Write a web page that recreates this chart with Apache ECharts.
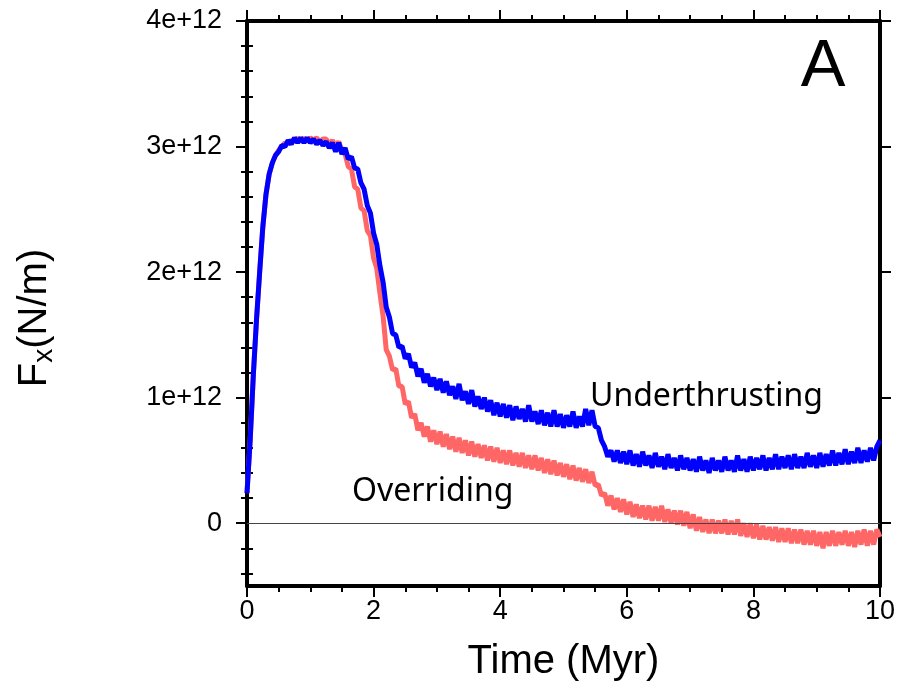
<!DOCTYPE html>
<html><head><meta charset="utf-8">
<script src="https://cdn.jsdelivr.net/npm/echarts@6/dist/echarts.min.js"></script>
<style>html,body{margin:0;padding:0;background:#fff}#c{width:902px;height:691px}</style>
</head><body><div id="c"></div>
<script>
// Fx in units of 1e12 N/m, sampled every 0.05 Myr from 0 to 10 Myr
const timeStep = 0.05;
const underthrusting = [
0.24,0.66,1.18,1.62,2.00,2.36,2.62,2.78,2.87,2.93,
2.96,3.01,3.00,3.05,3.02,3.07,3.03,3.07,3.03,3.07,
3.03,3.06,3.02,3.05,3.01,3.04,2.99,3.03,2.96,3.03,
2.94,2.99,2.90,2.92,2.83,2.82,2.71,2.66,2.53,2.47,
2.31,2.22,2.05,1.92,1.72,1.64,1.51,1.50,1.40,1.41,
1.31,1.35,1.24,1.28,1.17,1.23,1.12,1.19,1.09,1.16,
1.06,1.15,1.04,1.13,1.02,1.09,0.99,1.11,0.98,1.05,
0.95,1.06,0.93,1.01,0.91,1.00,0.89,0.98,0.86,0.96,
0.85,0.95,0.84,0.94,0.82,0.93,0.83,0.91,0.81,0.94,
0.81,0.89,0.79,0.90,0.78,0.88,0.77,0.90,0.77,0.87,
0.76,0.86,0.77,0.89,0.76,0.85,0.77,0.91,0.78,0.90,
0.77,0.76,0.66,0.61,0.53,0.58,0.49,0.58,0.48,0.57,
0.47,0.58,0.46,0.55,0.45,0.57,0.46,0.54,0.44,0.56,
0.45,0.53,0.43,0.55,0.44,0.52,0.42,0.54,0.43,0.52,
0.42,0.51,0.41,0.53,0.42,0.50,0.40,0.52,0.42,0.50,
0.41,0.53,0.42,0.50,0.41,0.54,0.42,0.51,0.41,0.53,
0.42,0.52,0.43,0.54,0.42,0.52,0.43,0.55,0.43,0.53,
0.44,0.54,0.43,0.55,0.44,0.53,0.44,0.56,0.45,0.54,
0.44,0.56,0.45,0.55,0.46,0.58,0.46,0.56,0.47,0.59,
0.47,0.57,0.48,0.60,0.48,0.58,0.49,0.60,0.50,0.61,
0.66];
const overriding = [
0.24,0.66,1.18,1.62,2.00,2.36,2.62,2.78,2.87,2.93,
2.97,3.00,3.03,3.02,3.05,3.04,3.07,3.04,3.07,3.04,
3.07,3.05,3.07,3.04,3.06,3.06,3.02,3.05,3.00,3.04,
2.96,2.94,2.84,2.82,2.68,2.66,2.51,2.49,2.33,2.29,
2.11,2.03,1.83,1.65,1.38,1.33,1.22,1.23,1.09,1.09,
0.95,0.97,0.84,0.87,0.74,0.80,0.69,0.77,0.65,0.74,
0.63,0.73,0.61,0.71,0.59,0.69,0.57,0.68,0.56,0.66,
0.54,0.65,0.53,0.63,0.52,0.62,0.50,0.61,0.49,0.60,
0.48,0.58,0.47,0.58,0.46,0.56,0.45,0.56,0.44,0.54,
0.43,0.54,0.42,0.52,0.40,0.51,0.39,0.50,0.38,0.48,
0.37,0.47,0.35,0.46,0.34,0.44,0.33,0.43,0.32,0.41,
0.30,0.31,0.22,0.24,0.14,0.22,0.11,0.20,0.09,0.19,
0.07,0.17,0.05,0.15,0.04,0.14,0.03,0.14,0.02,0.13,
0.02,0.14,0.01,0.11,0.00,0.10,-0.01,0.10,-0.02,0.09,
-0.04,0.07,-0.06,0.05,-0.07,0.03,-0.08,0.03,-0.08,0.02,
-0.08,0.03,-0.09,0.02,-0.09,0.03,-0.10,0.00,-0.11,0.00,
-0.12,-0.01,-0.13,-0.02,-0.13,-0.03,-0.14,-0.03,-0.15,-0.04,
-0.15,-0.04,-0.16,-0.05,-0.16,-0.05,-0.17,-0.06,-0.17,-0.06,
-0.18,-0.07,-0.20,-0.07,-0.18,-0.06,-0.18,-0.07,-0.17,-0.06,
-0.18,-0.07,-0.19,-0.06,-0.17,-0.05,-0.18,-0.06,-0.17,-0.05,
-0.11];
const xTicks = [0, 2, 4, 6, 8, 10];
const yTicks = [0, 1, 2, 3, 4];
const yMinorTicks = [-0.4,-0.2,0.2,0.4,0.6,0.8,1.2,1.4,1.6,1.8,2.2,2.4,2.6,2.8,3.2,3.4,3.6,3.8];
const seriesNames = ['Overriding', 'Underthrusting'];

const pairs = arr => arr.map((v, i) => [+(i * timeStep).toFixed(2), v]);

const FONT = 'Liberation Sans';
const black = '#000';
const axisLineStyle = {show: true, onZero: false, lineStyle: {color: black, width: 4}};
const tickRich = {t: {fontSize: 27, color: black, fontFamily: FONT, lineHeight: 30}};

const chart = echarts.init(document.getElementById('c'), null, {renderer: 'canvas'});
chart.setOption({
  backgroundColor: '#fff',
  animation: false,
  grid: {left: 247, right: 22, top: 21, bottom: 105, containLabel: false},
  xAxis: [
    {type: 'value', position: 'bottom', min: 0, max: 10, interval: 2,
     axisLine: axisLineStyle,
     axisTick: {show: true, inside: false, length: 11, lineStyle: {color: black, width: 2}},
     minorTick: {show: true, splitNumber: 4, length: 6, lineStyle: {color: black, width: 2}},
     splitLine: {show: false},
     axisLabel: {show: true, margin: 11, fontSize: 27, color: black, fontFamily: FONT, rich: tickRich,
                 formatter: v => xTicks.includes(v) ? '{t|' + v + '}' : ''},
     name: 'Time (Myr)', nameLocation: 'middle', nameGap: 56,
     nameTextStyle: {fontSize: 40, color: black, fontFamily: FONT}},
    {type: 'value', position: 'top', min: 0, max: 10, interval: 2,
     axisLine: axisLineStyle,
     axisTick: {show: true, inside: false, length: 11, lineStyle: {color: black, width: 2}},
     minorTick: {show: true, splitNumber: 4, length: 6, lineStyle: {color: black, width: 2}},
     splitLine: {show: false}, axisLabel: {show: false}}
  ],
  yAxis: [
    {type: 'value', position: 'left', min: -0.5, max: 4, interval: 0.5,
     axisLine: axisLineStyle,
     axisTick: {show: true, customValues: yTicks, length: 11, lineStyle: {color: black, width: 2}},
     splitLine: {show: false},
     axisLabel: {show: true, margin: 25, fontSize: 27, color: black, fontFamily: FONT, rich: tickRich,
                 formatter: v => yTicks.includes(v) ? '{t|' + (v === 0 ? '0' : v + 'e+12') + '}' : ''}},
    {type: 'value', position: 'left', min: -0.5, max: 4,
     axisLine: {show: false},
     axisTick: {show: true, customValues: yMinorTicks, length: 6, lineStyle: {color: black, width: 2}},
     splitLine: {show: false}, axisLabel: {show: false}},
    {type: 'value', position: 'right', min: -0.5, max: 4,
     axisLine: axisLineStyle,
     axisTick: {show: true, customValues: yTicks, length: 11, lineStyle: {color: black, width: 2}},
     splitLine: {show: false}, axisLabel: {show: false}},
    {type: 'value', position: 'right', min: -0.5, max: 4,
     axisLine: {show: false},
     axisTick: {show: true, customValues: yMinorTicks, length: 6, lineStyle: {color: black, width: 2}},
     splitLine: {show: false}, axisLabel: {show: false}}
  ],
  series: [
    {name: seriesNames[0], type: 'line', data: pairs(overriding), showSymbol: false, symbol: 'none',
     lineStyle: {color: '#ff6666', width: 5}, z: 2},
    {name: seriesNames[1], type: 'line', data: pairs(underthrusting), showSymbol: false, symbol: 'none',
     lineStyle: {color: '#0000ff', width: 5}, z: 3,
     markLine: {silent: true, symbol: 'none', label: {show: false},
                lineStyle: {color: '#444', width: 1.2, type: 'solid'},
                data: [{yAxis: 0}]}}
  ],
  graphic: [
    {type: 'text', x: 35, y: 318, rotation: Math.PI / 2,
     style: {text: 'F{s|x}(N/m)', fontSize: 40, fontFamily: FONT, fill: black,
             align: 'center', verticalAlign: 'middle',
             rich: {s: {fontSize: 28, fontFamily: FONT, fill: black, verticalAlign: 'bottom', padding: [18, 0, 0, 0]}}}},
    {type: 'text', x: 823, y: 68,
     style: {text: 'A', fontSize: 67, fontFamily: FONT, fill: black, align: 'center', verticalAlign: 'middle'}},
    {type: 'text', x: 590, y: 397,
     style: {text: 'Underthrusting', fontSize: 32, fontFamily: 'Noto Sans', fill: black, align: 'left', verticalAlign: 'middle'}},
    {type: 'text', x: 352, y: 492,
     style: {text: 'Overriding', fontSize: 32, fontFamily: 'Noto Sans', fill: black, align: 'left', verticalAlign: 'middle'}}
  ]
});
</script></body></html>
